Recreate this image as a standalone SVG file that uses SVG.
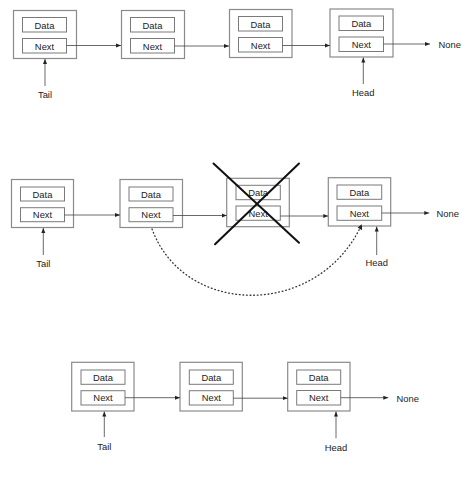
<svg xmlns="http://www.w3.org/2000/svg" width="474" height="480" viewBox="0 0 474 480">
<defs>
<style>
.outer{fill:#fff;stroke:#8a8a8a;stroke-width:1.2}
.inner{fill:#fff;stroke:#7a7a7a;stroke-width:1}
.t{font-family:"Liberation Sans",Arial,sans-serif;font-size:9.4px;fill:#222;text-anchor:middle;dominant-baseline:central}
.lbl{font-family:"Liberation Sans",Arial,sans-serif;font-size:9.4px;fill:#222;dominant-baseline:central}
.ln{fill:none;stroke:#444;stroke-width:0.8}
.dot{fill:none;stroke:#333;stroke-width:1.3;stroke-dasharray:0.8 2.8;stroke-linecap:round}
.x{stroke:#111;stroke-width:2;stroke-linecap:round}
</style>
<marker id="ah" viewBox="0 0 10 10" refX="10" refY="5" markerWidth="5" markerHeight="5" orient="auto" markerUnits="userSpaceOnUse">
<path d="M0,1 L10,5 L0,9 z" fill="#222"/>
</marker>
</defs>
<rect width="474" height="480" fill="#fff"/>

<!-- Row 1 -->
<g id="r1n1"><rect class="outer" x="13.5" y="10.5" width="63" height="48"/><rect class="inner" x="22.5" y="17.5" width="44" height="14.5"/><text class="t" x="44.5" y="25">Data</text><rect class="inner" x="22.5" y="38.5" width="44" height="14.5"/><text class="t" x="44.5" y="46">Next</text></g>
<g id="r1n2"><rect class="outer" x="121.5" y="10.5" width="63" height="48"/><rect class="inner" x="130.5" y="17.5" width="44" height="14.5"/><text class="t" x="152.5" y="25">Data</text><rect class="inner" x="130.5" y="38.5" width="44" height="14.5"/><text class="t" x="152.5" y="46">Next</text></g>
<g id="r1n3"><rect class="outer" x="229.5" y="9.5" width="62.5" height="48"/><rect class="inner" x="238.5" y="16.5" width="44" height="14.5"/><text class="t" x="260.5" y="24">Data</text><rect class="inner" x="238.5" y="37.5" width="44" height="14.5"/><text class="t" x="260.5" y="45">Next</text></g>
<g id="r1n4"><rect class="outer" x="330" y="9" width="63" height="48"/><rect class="inner" x="339" y="16" width="44.5" height="14.5"/><text class="t" x="361.3" y="23.3">Data</text><rect class="inner" x="339" y="37" width="44.5" height="14.5"/><text class="t" x="361.3" y="44.3">Next</text></g>
<g id="r1tail"><text class="t" x="45" y="94.5">Tail</text></g>
<g id="r1head"><text class="t" x="363.3" y="92.3">Head</text></g>
<g id="r1none"><text class="lbl" x="438.5" y="44">None</text></g>

<!-- Row 2 -->
<g id="r2n1"><rect class="outer" x="11.5" y="179.5" width="62" height="48"/><rect class="inner" x="20.5" y="187" width="44" height="14"/><text class="t" x="42.5" y="194">Data</text><rect class="inner" x="20.5" y="207.7" width="44" height="14"/><text class="t" x="42.5" y="214.7">Next</text></g>
<g id="r2n2"><rect class="outer" x="120" y="179.5" width="62.5" height="48"/><rect class="inner" x="129" y="187" width="44" height="14"/><text class="t" x="151" y="194">Data</text><rect class="inner" x="129" y="207.7" width="44" height="14"/><text class="t" x="151" y="214.7">Next</text></g>
<g id="r2n3"><rect class="outer" x="226.7" y="178.3" width="62.6" height="48.4"/><rect class="inner" x="236" y="185.3" width="44.3" height="14.4"/><text class="t" x="258.2" y="192.5">Data</text><rect class="inner" x="236" y="206" width="44.3" height="14.3"/><text class="t" x="258.2" y="213.2">Next</text>
<line class="x" x1="213.5" y1="163.5" x2="299" y2="242.7"/><line class="x" x1="299" y1="163.5" x2="215" y2="244.3"/></g>
<g id="r2n4"><rect class="outer" x="328.3" y="177.7" width="62.4" height="48.3"/><rect class="inner" x="337" y="185" width="44.7" height="14.3"/><text class="t" x="359.3" y="192.2">Data</text><rect class="inner" x="337" y="206" width="44.7" height="14.3"/><text class="t" x="359.3" y="213.2">Next</text></g>
<g id="r2tail"><text class="t" x="43.3" y="263.3">Tail</text></g>
<g id="r2head"><text class="t" x="376.7" y="262.7">Head</text></g>
<g id="r2none"><text class="lbl" x="436.5" y="213">None</text></g>

<!-- Row 3 -->
<g id="r3n1"><rect class="outer" x="71.7" y="362.3" width="62.3" height="48.7"/><rect class="inner" x="81" y="370" width="44" height="14.3"/><text class="t" x="103" y="377.2">Data</text><rect class="inner" x="81" y="390.7" width="44" height="14.3"/><text class="t" x="103" y="397.9">Next</text></g>
<g id="r3n2"><rect class="outer" x="180" y="362.3" width="62.3" height="48.7"/><rect class="inner" x="189.3" y="370" width="44" height="14.3"/><text class="t" x="211.3" y="377.2">Data</text><rect class="inner" x="189.3" y="390.7" width="44" height="14.3"/><text class="t" x="211.3" y="397.9">Next</text></g>
<g id="r3n3"><rect class="outer" x="287.7" y="362.3" width="62.3" height="48.7"/><rect class="inner" x="296.7" y="370" width="44" height="14.3"/><text class="t" x="318.7" y="377.2">Data</text><rect class="inner" x="296.7" y="390.5" width="44" height="14.5"/><text class="t" x="318.7" y="397.7">Next</text></g>
<g id="r3tail"><text class="t" x="104.3" y="446.7">Tail</text></g>
<g id="r3head"><text class="t" x="336" y="447.7">Head</text></g>
<g id="r3none"><text class="lbl" x="396.5" y="398">None</text></g>

<g id="connectors">
<!-- row 1 -->
<line class="ln" x1="66.5" y1="45.5" x2="121" y2="45.5" marker-end="url(#ah)"/>
<line class="ln" x1="174.5" y1="46" x2="229" y2="46" marker-end="url(#ah)"/>
<line class="ln" x1="282.5" y1="45.5" x2="330" y2="45.5" marker-end="url(#ah)"/>
<line class="ln" x1="383.5" y1="44" x2="430" y2="44" marker-end="url(#ah)"/>
<line class="ln" x1="45" y1="86" x2="45" y2="59" marker-end="url(#ah)"/>
<line class="ln" x1="363.3" y1="84" x2="363.3" y2="57.5" marker-end="url(#ah)"/>
<!-- row 2 -->
<line class="ln" x1="64.5" y1="215" x2="120" y2="215" marker-end="url(#ah)"/>
<line class="ln" x1="173" y1="215.5" x2="226.7" y2="215.5" marker-end="url(#ah)"/>
<line class="ln" x1="280.3" y1="216" x2="328.3" y2="216" marker-end="url(#ah)"/>
<line class="ln" x1="381.7" y1="213" x2="429.3" y2="213" marker-end="url(#ah)"/>
<line class="ln" x1="43.3" y1="255" x2="43.3" y2="228" marker-end="url(#ah)"/>
<line class="ln" x1="376.7" y1="255" x2="376.7" y2="226.5" marker-end="url(#ah)"/>
<path class="dot" d="M152,229 C185,318 318,318 361.5,225"/>
<path d="M361.8,224.3 L362.1,230.3 L357.6,227.6 z" fill="#222"/>
<!-- row 3 -->
<line class="ln" x1="125" y1="397.7" x2="180" y2="397.7" marker-end="url(#ah)"/>
<line class="ln" x1="233.3" y1="398.2" x2="287.7" y2="398.2" marker-end="url(#ah)"/>
<line class="ln" x1="340.7" y1="397.7" x2="388.3" y2="397.7" marker-end="url(#ah)"/>
<line class="ln" x1="104.3" y1="437" x2="104.3" y2="411.5" marker-end="url(#ah)"/>
<line class="ln" x1="336" y1="438.3" x2="336" y2="411.5" marker-end="url(#ah)"/>
</g>
</svg>
